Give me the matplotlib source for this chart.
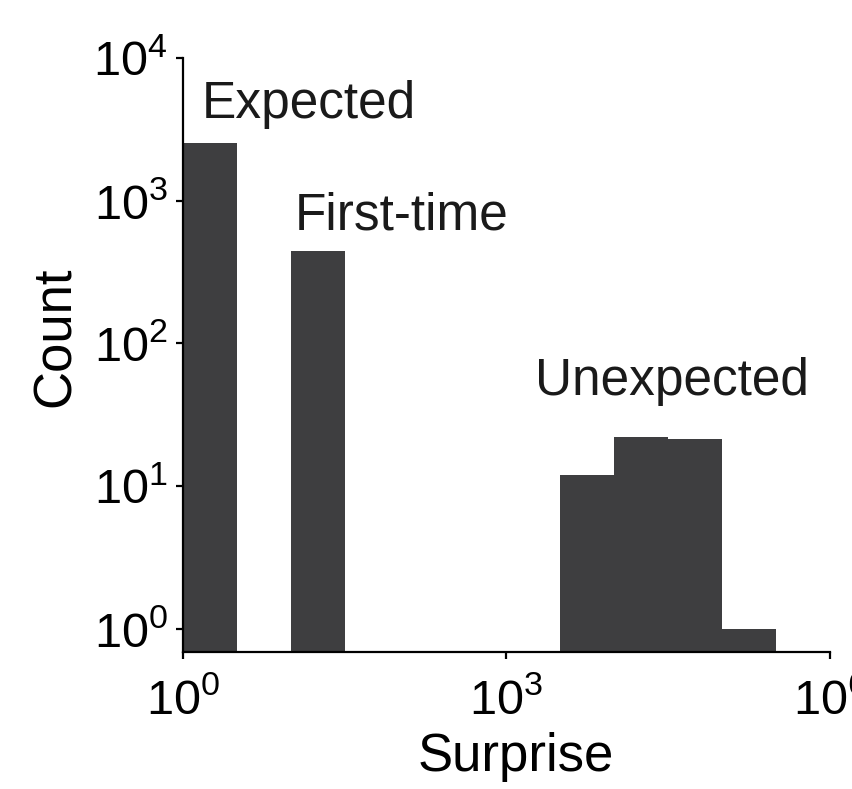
import numpy as np
import matplotlib
matplotlib.use('Agg')
import matplotlib.pyplot as plt

# histogram of surprise values, bins half a decade wide
bin_edges_log = np.arange(0, 6.01, 0.5)
counts = [2540, 0, 445, 0, 0, 0, 0, 12, 22, 21.4, 1, 0]

# annotation labels: text, x, y (data coords)
labels = ['Expected', 'First-time', 'Unexpected']
label_x = [1.50, 10.9, 1840]
label_y = [3800, 624, 43.6]

bar_color = '#3e3e40'

plt.rcParams['font.family'] = ['Liberation Sans', 'DejaVu Sans']
plt.rcParams['mathtext.fontset'] = 'custom'
plt.rcParams['mathtext.rm'] = 'Liberation Sans'

fig = plt.figure(figsize=(8.53, 7.89), dpi=100)
ax = fig.add_axes([0.2145, 0.174, 0.7585, 0.7525])

edges = 10 ** bin_edges_log
left = edges[:-1]
width = edges[1:] - edges[:-1]
for l, w, c in zip(left, width, counts):
    if c > 0:
        ax.bar(l, c, width=w, align='edge', color=bar_color,
               edgecolor='none', bottom=1e-3)

ax.set_xscale('log')
ax.set_yscale('log')
ax.set_xlim(1, 1e6)
ax.set_ylim(0.69, 1e4)
ax.set_xticks([1, 1e3, 1e6])
ax.set_yticks([1, 10, 100, 1e3, 1e4])
ax.minorticks_off()

for side in ['top', 'right']:
    ax.spines[side].set_visible(False)
for side in ['left', 'bottom']:
    ax.spines[side].set_linewidth(1.6)

ax.tick_params(axis='both', direction='out', length=5, width=1.6,
               labelsize=35)
ax.tick_params(axis='x', pad=14)
ax.tick_params(axis='y', pad=6)

ax.set_xlabel('Surprise', fontsize=38)
ax.set_ylabel('Count', fontsize=38)
ax.xaxis.set_label_coords(0.515, -0.136)
ax.yaxis.set_label_coords(-0.158, 0.53)

for txt, x, y in zip(labels, label_x, label_y):
    ax.text(x, y, txt, fontsize=37, ha='left', va='baseline', color='#1a1a1a')

fig.savefig('out.png', dpi=100)
